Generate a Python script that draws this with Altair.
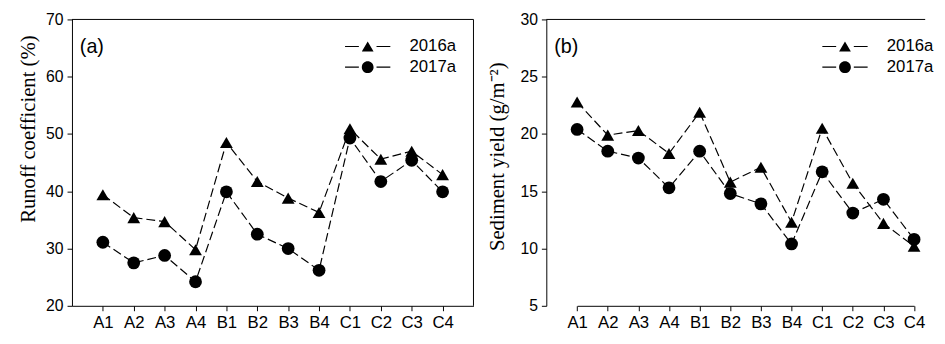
import altair as alt
import pandas as pd

categories = ["A1", "A2", "A3", "A4", "B1", "B2", "B3", "B4", "C1", "C2", "C3", "C4"]
series = ["2016a", "2017a"]

runoff_2016 = [39.4, 35.4, 34.7, 29.8, 48.5, 41.7, 38.8, 36.3, 50.9, 45.6, 47.0, 42.9]
runoff_2017 = [31.1, 27.5, 28.8, 24.2, 39.9, 32.5, 30.0, 26.2, 49.3, 41.7, 45.4, 39.9]
sed_2016 = [22.8, 19.9, 20.3, 18.3, 21.9, 15.8, 17.1, 12.3, 20.5, 15.7, 12.2, 10.2]
sed_2017 = [20.4, 18.5, 17.9, 15.3, 18.5, 14.8, 13.9, 10.4, 16.7, 13.1, 14.3, 10.8]

runoff_ticks = [20, 30, 40, 50, 60, 70]
sed_ticks = [5, 10, 15, 20, 25, 30]


def make_df(v16, v17):
    rows = []
    for c, a, b in zip(categories, v16, v17):
        rows.append({"cat": c, "series": series[0], "value": a})
        rows.append({"cat": c, "series": series[1], "value": b})
    return pd.DataFrame(rows)


DASHES = ("M-3.54,-0.09 L-1.38,-0.09 L-1.38,0.09 L-3.54,0.09 Z "
          "M1.38,-0.09 L3.54,-0.09 L3.54,0.09 L1.38,0.09 Z ")
TRI = DASHES + "M0,-0.8 L0.92,0.8 L-0.92,0.8 Z"
CIR = DASHES + "M-0.92,0 A0.92,0.92 0 1,0 0.92,0 A0.92,0.92 0 1,0 -0.92,0 Z"

H = 291


def panel(df, ydomain, yticks, ytitle, label, width, xscale, legend_x,
          title_x, title_y, right_border):
    base = alt.Chart(df)
    x = alt.X("cat:N", sort=categories, scale=xscale,
              axis=alt.Axis(title=None, labelAngle=0, labelPadding=4, labelFontSize=17))
    y = alt.Y("value:Q", scale=alt.Scale(domain=ydomain, nice=False, zero=False),
              axis=alt.Axis(values=yticks, title=ytitle, titleX=title_x,
                            titleY=title_y, titleBaseline="middle",
                            titleAlign="center", labelPadding=4))
    lines = base.mark_line(color="black", strokeDash=[9, 4], strokeWidth=1.2).encode(
        x=x, y=y, detail="series:N")
    pts = base.mark_point(filled=True, color="black", size=169, opacity=1).encode(
        x=x, y=y,
        shape=alt.Shape("series:N",
                        scale=alt.Scale(domain=series, range=["triangle-up", "circle"]),
                        legend=None))
    leg = base.mark_point(filled=True, color="black", size=169, opacity=0).encode(
        x=x, y=y,
        shape=alt.Shape("series:N",
                        scale=alt.Scale(domain=series, range=[TRI, CIR]),
                        legend=alt.Legend(title=None, orient="none",
                                          legendX=legend_x, legendY=19,
                                          symbolSize=169, symbolFillColor="black",
                                          symbolStrokeColor="black", symbolStrokeWidth=0,
                                          symbolOpacity=1, labelOffset=34,
                                          labelFont="Liberation Sans", labelFontSize=17,
                                          labelColor="black", rowPadding=3, padding=0)))
    txt = alt.Chart(pd.DataFrame({"t": [label]})).mark_text(
        align="left", baseline="middle", font="Liberation Sans", fontSize=20,
        color="black").encode(x=alt.value(8), y=alt.value(28), text="t:N")
    frame_df = pd.DataFrame({"k": [0]})
    top = alt.Chart(frame_df).mark_rule(color="black", strokeWidth=1).encode(
        x=alt.value(0), x2=alt.value(width), y=alt.value(0))
    layers = [lines, pts, leg, txt, top]
    if right_border:
        right = alt.Chart(frame_df).mark_rule(color="black", strokeWidth=1).encode(
            x=alt.value(width), y=alt.value(0), y2=alt.value(H))
        layers.append(right)
    return alt.layer(*layers).resolve_scale(shape="independent").properties(
        width=width, height=H)


pa = panel(make_df(runoff_2016, runoff_2017), [20, 70], runoff_ticks,
           "Runoff coefficient (%)", "(a)", 408, alt.Scale(padding=1),
           292, -44, 111, True)
pb = panel(make_df(sed_2016, sed_2017), [5, 30], sed_ticks,
           "Sediment yield (g/m\u207b\u00b2)", "(b)", 385,
           alt.Scale(range=[31.3, 373.7], padding=0),
           295, -49, 139, False)

chart = alt.hconcat(pa, pb, spacing=12).properties(
    padding={"left": 9, "top": 1, "right": 0, "bottom": 0}
).configure_view(stroke=None).configure_axis(
    domainColor="black", tickColor="black", labelColor="black", tickSize=5,
    labelFont="Liberation Sans", labelFontSize=16, grid=False,
    titleFont="Liberation Serif", titleFontSize=21, titleFontWeight="normal",
    titleColor="black"
)

chart.save("out.html", embed_options={"renderer": "svg", "actions": False})
